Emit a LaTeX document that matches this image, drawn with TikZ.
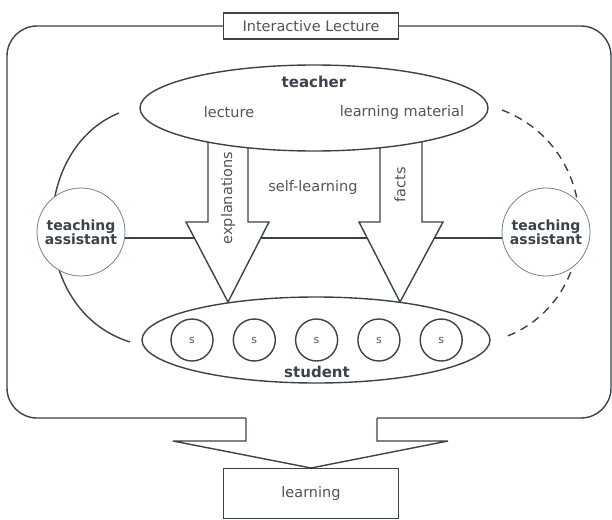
\documentclass[tikz,border=0pt]{standalone}
\usepackage{fontspec}
\setmainfont{DejaVu Sans}
\usepackage{tikz}
\usetikzlibrary{positioning,shapes.geometric}

\definecolor{ink}{HTML}{3C4249}
\definecolor{txt}{HTML}{50555B}
\definecolor{rim}{HTML}{6E8290}

\tikzset{
  plain/.style={text=txt, font=\fontsize{14.5}{17}\selectfont},
  heavy/.style={text=ink, font=\bfseries\fontsize{15}{17}\selectfont},
  bubble/.style={ellipse, draw, fill=white, minimum width=348pt, minimum height=86pt, inner sep=0pt},
  helper/.style={circle, draw=rim, line width=0.8pt, fill=white, minimum size=88pt, inner sep=0pt,
    align=center, text=ink, font=\bfseries\fontsize{14}{14}\selectfont},
  pupil/.style={circle, draw, fill=white, minimum size=42pt, inner sep=0pt, text=txt,
    font=\fontsize{11}{13}\selectfont},
  tag/.style={draw, fill=white, minimum width=175pt, minimum height=26pt, inner sep=0pt, plain},
  optional/.style={dash pattern=on 8pt off 6pt}
}

\begin{document}
\begin{tikzpicture}[x=1pt, y=-1pt, color=ink, line width=1.4pt, node distance=62.3pt]
\useasboundingbox (0,0) rectangle (612,519);
% Frame
\draw[rounded corners=30pt] (246,418) -- (7,418) -- (7,26) -- (611,26) -- (611,418) -- (377,418);
\node(title)[tag] at (311,26){Interactive Lecture};
\draw (246,418) -- (246,441) -- (173,441) -- (311,468) -- (448,441) -- (377,441) -- (377,418);
\node(learn)[tag, minimum height=50pt, anchor=north] at (311,468){learning};
% Arcs
\draw (119,113) .. controls (28,150) and (28,310) .. (130,342);
\draw[optional] (502,110) .. controls (606,150) and (604,300) .. (505,337);
% Nodes
\node(lta)[helper] at (81,232){teaching\\assistant};
\node(rta)[helper] at (546,232){teaching\\assistant};
\draw ([yshift=-6pt]lta.east) -- ([yshift=-6pt]rta.west);
% Arrows
\draw[fill=white] (208,130) -- (208,222) -- (186,222) -- (228,302) -- (269,222) -- (248,222) -- (248,130) -- cycle;
\draw[fill=white] (380,130) -- (380,222) -- (359,222) -- (400,302) -- (443,222) -- (422,222) -- (422,130) -- cycle;
\node(expl)[plain, rotate=90] at (228,198){explanations};
\node(facts)[plain, rotate=90] at (400,185){facts};
\node(self)[plain] at (313,187){self-learning};
\node(teacher)[bubble] at (314,108){};
\node(T)[heavy] at (314,82){teacher};
\node(lec)[plain] at (229,112){lecture};
\node(mat)[plain] at (402,112){learning material};
\node(student)[bubble] at (316,340){};
\node(s1)[pupil] at (192,340){s};
\node(s2)[pupil, right of = s1]{s};
\node(s3)[pupil, right of = s2]{s};
\node(s4)[pupil, right of = s3]{s};
\node(s5)[pupil, right of = s4]{s};
\node(S)[heavy] at (317,372){student};
\end{tikzpicture}
\end{document}
